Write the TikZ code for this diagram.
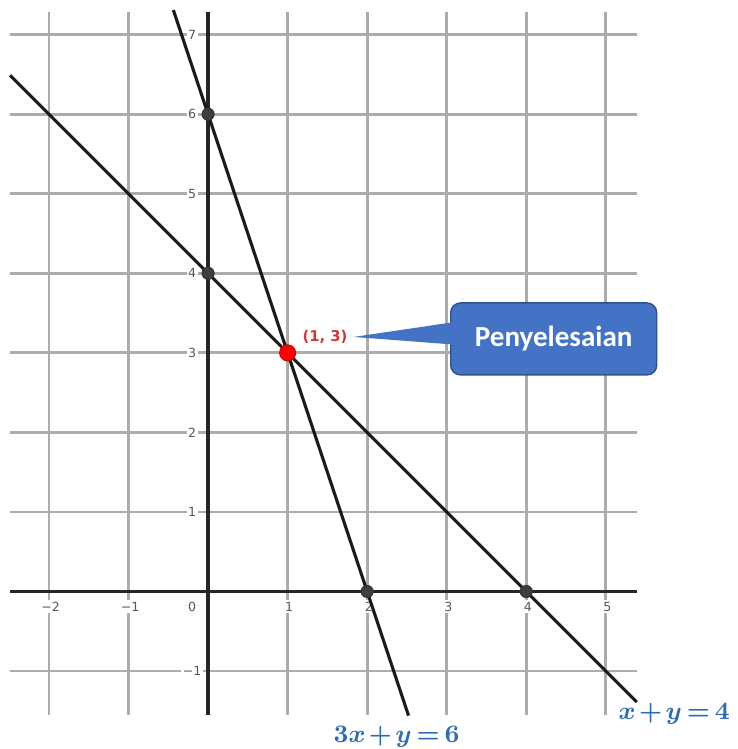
\documentclass[tikz,border=0pt]{standalone}
\usepackage{fontspec}
\usepackage{xcolor}
\usetikzlibrary{
    arrows.meta,
    positioning,
    calc
}
\newfontfamily\tickfont{DejaVu Sans}
\newfontfamily\callfont{Carlito}
\definecolor{gridgray}{RGB}{172,172,172}
\definecolor{calloutblue}{RGB}{68,114,196}
\definecolor{calloutedge}{RGB}{47,82,143}
\definecolor{eqblue}{RGB}{46,108,176}
\definecolor{solred}{RGB}{206,56,56}
\definecolor{dotgray}{RGB}{62,62,62}
\newcommand{\eqtext}[1]{$\thickmuskip=3mu\relax\medmuskip=2mu\relax #1$}

\begin{document}
\begin{tikzpicture}[>=stealth, x=1cm, y=1cm,
    gridline/.style={gridgray, line width=1pt},
    axisline/.style={black!85, line width=1.2pt},
    graphline/.style={black!90, line width=1.1pt},
    ticklabel/.style={
            % The text:
            font=\tickfont\fontsize{4.5}{5}\selectfont, text=black!65,
            % The filling
            fill=white, inner sep=0.6pt},
    dot/.style={circle, draw=black!80, fill=dotgray, inner sep=0pt, minimum size=0.15cm},
    soldot/.style={circle, draw=red!85!black, fill=red, inner sep=0pt, minimum size=0.2cm},
    eqlabel/.style={font=\fontsize{9.4}{11}\selectfont\boldmath,
            text=eqblue, inner sep=0pt, anchor=base},
    callout/.style={
            % The shape:
            rectangle, rounded corners=3.5pt,
            % The size:
            minimum width=2.59cm, minimum height=0.905cm,
            % The border
            draw=calloutedge, line width=0.5pt,
            % The filling
            fill=calloutblue,
            % The text
            text=white, font=\callfont\bfseries\fontsize{10.4}{12}\selectfont}]

        \useasboundingbox (-2.616,-1.980) rectangle (6.661,7.436);

        % grid
        \foreach \x in {-2,-1,1,2,3,4,5}{
          \draw [gridline] (\x,-1.553) -- (\x,7.285);
        }
        \foreach \y in {-1,1,2,...,7}{
          \draw [gridline] (-2.49,\y) -- (5.39,\y);
        }

        % tick labels
        \foreach \y/\t in {-1/{\char"2212 1},1/1,2/2,3/3,4/4,5/5,6/6,7/7}{
          \node [ticklabel] (ly\y) at (-0.2,\y) {\t};
        }
        \foreach \x/\t in {-2/{\char"2212 2},-1/{\char"2212 1},1/1,2/2,3/3,4/4,5/5}{
          \node [ticklabel] (lx\x) at (\x + 0.02,-0.19) {\t};
        }
        \node [ticklabel] (lx0) at (-0.2,-0.19) {0};

        % axes
        \draw [axisline] (-2.49,0) -- (5.39,0);
        \draw [axisline] (0,-1.553) -- (0,7.285);

        % the two lines
        \coordinate (la) at (-0.437,7.31);
        \coordinate (lb) at (2.52,-1.56);
        \coordinate (ma) at (-2.49,6.49);
        \coordinate (mb) at (5.39,-1.39);
        \draw [graphline] (la) -- (lb);
        \draw [graphline] (ma) -- (mb);

        % intercepts
        \node [dot] (p06) at (0,6) {};
        \node [dot] (p04) at (0,4) {};
        \node [dot] (p20) at (2,0) {};
        \node [dot] (p40) at (4,0) {};
        \node [soldot] (sol) at (1,3) {};

        \node [text=solred, font=\tickfont\bfseries\fontsize{5.3}{6}\selectfont, inner sep=0pt]
          (solname) at (1.47,3.2) {(1, 3)};

        % callout
        \node [callout] (pen) at (4.345,3.175) {Penyelesaian};
        \coordinate (tip) at ($(solname.east)+(0.07,0)$);
        \fill [calloutblue] ($(pen.west)+(0.04,0.21)$) -- (tip) -- ($(pen.west)+(0.04,-0.07)$) -- cycle;

        % equations
        \node [eqlabel] (eqa) at (2.37,-1.892) {\eqtext{3x+y=6}};
        \node [eqlabel] (eqb) at (5.86,-1.615) {\eqtext{x+y=4}};

\end{tikzpicture}
\end{document}
